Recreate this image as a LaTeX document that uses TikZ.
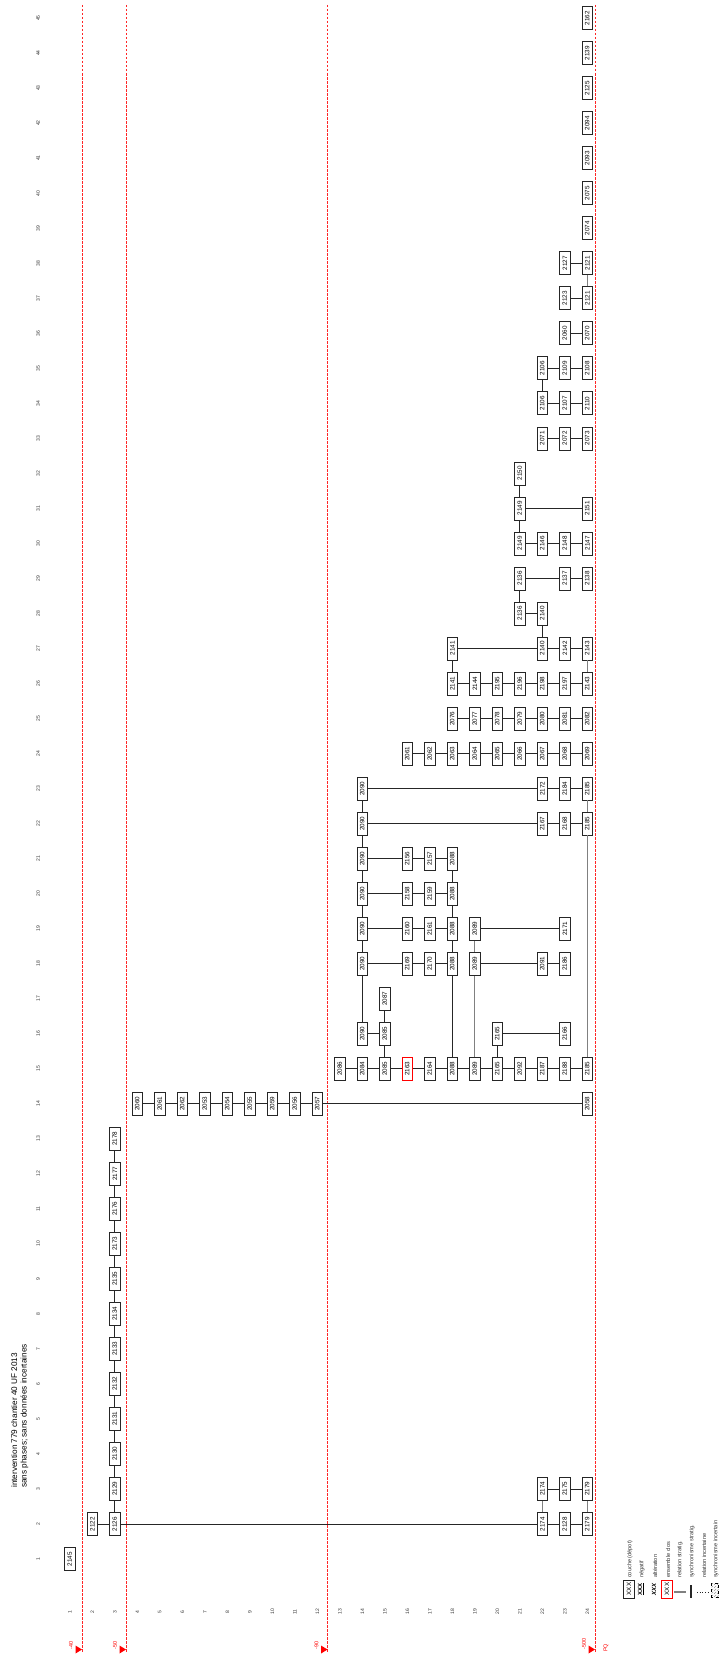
\documentclass[tikz,border=0pt]{standalone}
\usepackage{fontspec}
\setmainfont{Liberation Sans}
\usetikzlibrary{positioning,patterns}

\begin{document}
\begin{tikzpicture}[x=1pt,y=-1pt,
  uf/.style={draw=black!85,fill=white,line width=0.7pt,rotate=90,minimum width=23pt,minimum height=10.5pt,inner sep=0pt,font=\fontsize{6.3}{7}\selectfont},
  clos/.style={uf,draw=red},
  rel/.style={draw=black!85,line width=0.7pt},
  sync/.style={draw=black!50,line width=1.2pt},
  num/.style={rotate=90,inner sep=0pt,font=\fontsize{5}{6}\selectfont,text=black!80},
  limit/.style={draw=red!85,line width=0.6pt,dash pattern=on 2.5pt off 1.5pt},
  depthlab/.style={rotate=90,anchor=west,inner sep=0pt,text=red,font=\fontsize{5.5}{6}\selectfont},
  legtext/.style={rotate=90,anchor=west,inner sep=0pt,font=\fontsize{5.6}{6}\selectfont,text=black!80}
]
\useasboundingbox (0,0) rectangle (720,1654);

% titre
\node[rotate=90,anchor=north west,inner sep=0pt,font=\fontsize{8.2}{9.6}\selectfont,align=left] (titre) at (11,1488)
  {intervention 779 chantier 40 UF 2013\\sans phases; sans donn\'ees incertaines};

% limites de profondeur
\foreach \x/\d in {82/-40,126/-50,327.5/-90,595/-500}{
  \draw[limit] (\x,5) -- (\x,1652);
  \fill[red] (\x-6.5,1645.5) -- (\x,1649.5) -- (\x-6.5,1653.5) -- cycle;
  \node[depthlab] at (\x-11,1650) {\d};
}
\node[depthlab] (pq) at (606,1652) {PQ};

\begin{scope}[shift={(47.3,1594.02)},x=22.5pt,y=35.02pt]
% numeros de colonnes et de lignes
\foreach \c in {1,...,45} \node[num] (col\c) at (-0.41,\c) {\c};
\foreach \r in {1,...,24} \node[num] (row\r) at (\r,-0.51) {\r};

% colonnes 1 a 3
\node[uf] (c1r1) at (1,1) {2145};
\node[uf] (c2r2) at (2,2) {2122};
\node[uf] (c2r3) at (3,2) {2126};
\node[uf] (c2r22) at (22,2) {2174};
\node[uf] (c2r23) at (23,2) {2128};
\node[uf] (c2r24) at (24,2) {2179};
\node[uf] (c3r22) at (22,3) {2174};
\node[uf] (c3r23) at (23,3) {2175};
\node[uf] (c3r24) at (24,3) {2179};
\foreach \c/\t in {3/2129,4/2130,5/2131,6/2132,7/2133,8/2134,9/2135,10/2173,11/2176,12/2177,13/2178}
  \node[uf] (c\c r3) at (3,\c) {\t};

% colonne 14
\foreach \r/\t in {4/2060,5/2061,6/2062,7/2053,8/2054,9/2055,10/2059,11/2056,12/2057,24/2058}
  \node[uf] (c14r\r) at (\r,14) {\t};

% colonne 15
\foreach \r/\t in {13/2086,14/2084,15/2085,17/2164,18/2088,19/2089,20/2165,21/2092,22/2187,23/2188,24/2185}
  \node[uf] (c15r\r) at (\r,15) {\t};
\node[clos] (c15r16) at (16,15) {2163};

% colonnes 16 a 23
\node[uf] (c16r14) at (14,16) {2090};
\node[uf] (c16r15) at (15,16) {2085};
\node[uf] (c16r20) at (20,16) {2165};
\node[uf] (c16r23) at (23,16) {2166};
\node[uf] (c17r15) at (15,17) {2087};
\foreach \c in {18,...,23} \node[uf] (c\c r14) at (14,\c) {2090};
\foreach \c/\a/\b in {18/2169/2170,19/2160/2161,20/2158/2159,21/2156/2157}{
  \node[uf] (c\c r16) at (16,\c) {\a};
  \node[uf] (c\c r17) at (17,\c) {\b};
  \node[uf] (c\c r18) at (18,\c) {2088};
}
\node[uf] (c18r19) at (19,18) {2089};
\node[uf] (c18r22) at (22,18) {2091};
\node[uf] (c18r23) at (23,18) {2186};
\node[uf] (c19r19) at (19,19) {2089};
\node[uf] (c19r23) at (23,19) {2171};
\node[uf] (c22r22) at (22,22) {2167};
\node[uf] (c22r23) at (23,22) {2168};
\node[uf] (c22r24) at (24,22) {2185};
\node[uf] (c23r22) at (22,23) {2172};
\node[uf] (c23r23) at (23,23) {2184};
\node[uf] (c23r24) at (24,23) {2185};

% colonnes 24 a 26
\foreach \r/\t in {16/2061,17/2062,18/2063,19/2064,20/2065,21/2066,22/2067,23/2068,24/2069}
  \node[uf] (c24r\r) at (\r,24) {\t};
\foreach \r/\t in {18/2076,19/2077,20/2078,21/2079,22/2080,23/2081,24/2082}
  \node[uf] (c25r\r) at (\r,25) {\t};
\foreach \r/\t in {18/2141,19/2144,20/2195,21/2196,22/2198,23/2197,24/2143}
  \node[uf] (c26r\r) at (\r,26) {\t};

% colonnes 27 a 38
\node[uf] (c27r18) at (18,27) {2141};
\node[uf] (c27r22) at (22,27) {2140};
\node[uf] (c27r23) at (23,27) {2142};
\node[uf] (c27r24) at (24,27) {2143};
\node[uf] (c28r21) at (21,28) {2136};
\node[uf] (c28r22) at (22,28) {2140};
\node[uf] (c29r21) at (21,29) {2136};
\node[uf] (c29r23) at (23,29) {2137};
\node[uf] (c29r24) at (24,29) {2138};
\node[uf] (c30r21) at (21,30) {2149};
\node[uf] (c30r22) at (22,30) {2146};
\node[uf] (c30r23) at (23,30) {2148};
\node[uf] (c30r24) at (24,30) {2147};
\node[uf] (c31r21) at (21,31) {2149};
\node[uf] (c31r24) at (24,31) {2151};
\node[uf] (c32r21) at (21,32) {2150};
\foreach \c/\a/\b/\d in {33/2071/2072/2073,34/2106/2107/2110,35/2106/2109/2108}{
  \node[uf] (c\c r22) at (22,\c) {\a};
  \node[uf] (c\c r23) at (23,\c) {\b};
  \node[uf] (c\c r24) at (24,\c) {\d};
}
\node[uf] (c36r23) at (23,36) {2060};
\node[uf] (c36r24) at (24,36) {2070};
\node[uf] (c37r23) at (23,37) {2123};
\node[uf] (c37r24) at (24,37) {2121};
\node[uf] (c38r23) at (23,38) {2127};
\node[uf] (c38r24) at (24,38) {2121};
\foreach \c/\t in {39/2074,40/2075,41/2093,42/2094,43/2125,44/2139,45/2162}
  \node[uf] (c\c r24) at (24,\c) {\t};

% relations
\draw[rel] (c2r2) -- (c2r3);
\draw[rel] (c2r3) -- (c2r22);
\draw[rel] (c2r22) -- (c2r23);
\draw[rel] (c2r23) -- (c2r24);
\draw[rel] (c3r22) -- (c3r23);
\draw[rel] (c3r23) -- (c3r24);
\draw[rel] (c2r3) -- (c3r3);
\draw[sync] (c2r22) -- (c3r22);
\draw[sync] (c2r24) -- (c3r24);
\foreach \a/\b in {3/4,4/5,5/6,6/7,7/8,8/9,9/10,10/11,11/12,12/13}
  \draw[rel] (c\a r3) -- (c\b r3);
\foreach \a/\b in {4/5,5/6,6/7,7/8,8/9,9/10,10/11,11/12,12/24}
  \draw[rel] (c14r\a) -- (c14r\b);
\foreach \a/\b in {13/14,14/15,15/16,16/17,17/18,18/19,19/20,20/21,21/22,22/23,23/24}
  \draw[rel] (c15r\a) -- (c15r\b);
\draw[rel] (c15r15) -- (c16r15);
\draw[rel] (c16r15) -- (c17r15);
\draw[rel] (c16r14) -- (c16r15);
\draw[rel] (c16r14) -- (c18r14);
\foreach \a/\b in {18/19,19/20,20/21,21/22,22/23}
  \draw[rel] (c\a r14) -- (c\b r14);
\draw[rel] (c15r18) -- (c18r18);
\foreach \a/\b in {18/19,19/20,20/21}
  \draw[rel] (c\a r18) -- (c\b r18);
\draw[sync] (c15r19) -- (c18r19);
\draw[sync] (c18r19) -- (c19r19);
\draw[rel] (c15r20) -- (c16r20);
\draw[rel] (c16r20) -- (c16r23);
\draw[sync] (c15r24) -- (c22r24);
\draw[sync] (c22r24) -- (c23r24);
\foreach \c in {18,...,21}{
  \draw[rel] (c\c r14) -- (c\c r16);
  \draw[rel] (c\c r16) -- (c\c r17);
  \draw[rel] (c\c r17) -- (c\c r18);
}
\draw[rel] (c18r19) -- (c18r22);
\draw[rel] (c18r22) -- (c18r23);
\draw[rel] (c19r19) -- (c19r23);
\foreach \c in {22,23}{
  \draw[rel] (c\c r14) -- (c\c r22);
  \draw[rel] (c\c r22) -- (c\c r23);
  \draw[rel] (c\c r23) -- (c\c r24);
}
\foreach \a/\b in {16/17,17/18,18/19,19/20,20/21,21/22,22/23,23/24}
  \draw[rel] (c24r\a) -- (c24r\b);
\foreach \a/\b in {18/19,19/20,20/21,21/22,22/23,23/24}{
  \draw[rel] (c25r\a) -- (c25r\b);
  \draw[rel] (c26r\a) -- (c26r\b);
}
\draw[rel] (c26r18) -- (c27r18);
\draw[sync] (c26r24) -- (c27r24);
\draw[rel] (c27r18) -- (c27r22);
\draw[rel] (c27r22) -- (c27r23);
\draw[rel] (c27r23) -- (c27r24);
\draw[rel] (c27r22) -- (c28r22);
\draw[rel] (c28r21) -- (c28r22);
\draw[rel] (c28r21) -- (c29r21);
\draw[rel] (c29r21) -- (c29r23);
\draw[rel] (c29r23) -- (c29r24);
\draw[rel] (c30r21) -- (c30r22);
\draw[rel] (c30r22) -- (c30r23);
\draw[rel] (c30r23) -- (c30r24);
\draw[rel] (c30r21) -- (c31r21);
\draw[rel] (c31r21) -- (c31r24);
\draw[rel] (c31r21) -- (c32r21);
\foreach \c in {33,34,35}{
  \draw[rel] (c\c r22) -- (c\c r23);
  \draw[rel] (c\c r23) -- (c\c r24);
}
\draw[rel] (c34r22) -- (c35r22);
\draw[rel] (c36r23) -- (c36r24);
\draw[rel] (c37r23) -- (c37r24);
\draw[rel] (c38r23) -- (c38r24);
\draw[sync] (c37r24) -- (c38r24);
\end{scope}

% legende
\node[uf,minimum width=18pt] (lcouche) at (629,1589) {XXX};
\node[rotate=90,inner sep=0pt,font=\fontsize{6}{7}\selectfont\bfseries] (lneg) at (641,1589) {\underline{XXX}};
\node[rotate=90,inner sep=0pt,font=\fontsize{6}{7}\selectfont\bfseries\itshape] (lalt) at (654,1589) {XXX};
\node[clos,minimum width=18pt] (lclos) at (667,1589) {XXX};
\coordinate (lrel1) at (674,1592);
\coordinate (lrel2) at (686,1592);
\draw[sync] (lrel1) -- (lrel2);
\coordinate (lsyn1) at (691,1585);
\coordinate (lsyn2) at (691,1598);
\draw[rel,line width=1.2pt] (lsyn1) -- (lsyn2);
\coordinate (linc1) at (697,1592);
\coordinate (linc2) at (709,1592);
\draw[rel,dotted] (linc1) -- (linc2);
\node[rotate=90,draw,dashed,pattern=north east lines,pattern color=black!40,minimum width=14pt,minimum height=7pt,inner sep=0pt] (lsinc) at (715,1590) {};
\foreach \x/\t in {630/couche (d\'epot),642/n\'egatif,655/alt\'eration,668/ensemble clos,680/relation stratig.,692/synchronisme stratig.,704/relation incertaine,716/synchronisme incertain}
  \node[legtext] at (\x,1578) {\t};
\end{tikzpicture}
\end{document}
